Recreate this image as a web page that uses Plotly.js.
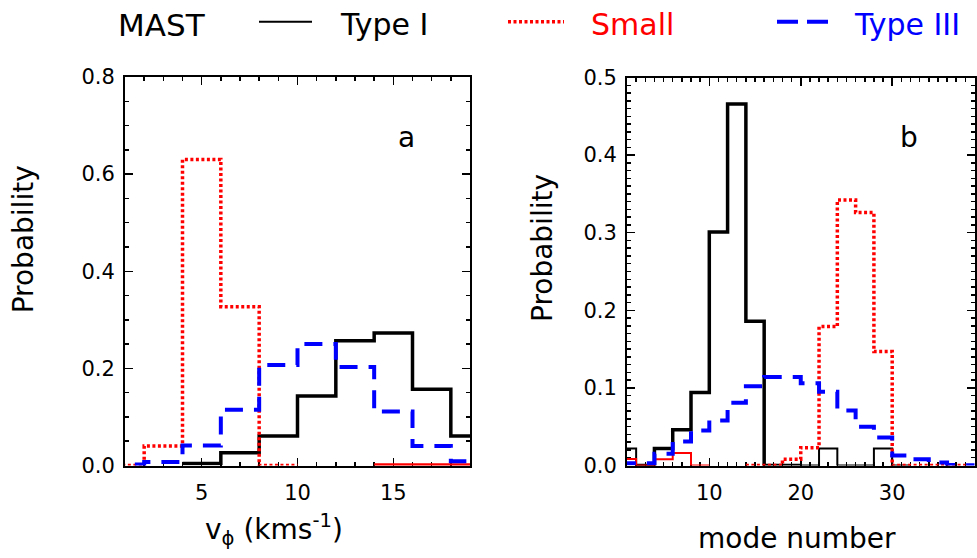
<!DOCTYPE html>
<html><head><meta charset="utf-8">
<script src="https://cdn.plot.ly/plotly-3.0.1.min.js"></script>
<style>html,body{margin:0;padding:0;background:#fff}#chart{width:977px;height:558px}</style>
</head><body><div id="chart"></div>
<script>
// ---------- data ----------
const binWidth = 2;
// panel a : toroidal velocity v_phi (km/s), bins of 2 starting at 0
const velBinStart = 0;
const velTypeI      = [null, null, 0.004, 0.026, 0.061, 0.143, 0.257, 0.273, 0.157, 0.061];
const velSmall      = [0, 0.040, 0.630, 0.327, 0, null, null, null, null, null];
const velSmallZero  = [null, null, null, null, null, null, null, 0, 0, 0];
const velTypeIII    = [0.002, 0.007, 0.041, 0.115, 0.207, 0.250, 0.203, 0.111, 0.040, 0.009];
// panel b : mode number, bins of 2 starting at 0
const modeBinStart = 0;
const modeTypeI      = [null, 0, 0.022, 0.046, 0.094, 0.301, 0.466, 0.186, 0, 0, null, null, null, null, null, null, null, null, null, null];
const modeTypeIMinor = [0.022, 0, null, null, null, null, null, null, null, null, 0, 0.022, 0, 0, 0.022, 0, null, null, null, null];
const modeSmall      = [null, null, null, null, null, null, null, 0, 0, 0.008, 0.023, 0.179, 0.342, 0.326, 0.147, 0, 0, 0, 0, null];
const modeSmallMinor = [0.0085, 0, 0.008, 0.016, 0, null, null, null, null, null, null, null, null, null, null, null, null, null, null, null];
const modeTypeIII    = [0.003, 0.003, 0.015, 0.031, 0.045, 0.058, 0.081, 0.102, 0.114, 0.114, 0.106, 0.095, 0.071, 0.050, 0.036, 0.013, 0.008, 0.004, 0.001, 0];

const seriesNames = ['Type I', 'Small', 'Type III'];
const legendTitle = 'MAST';
const xTitleA = 'v<sub>ϕ</sub> (kms<sup>-1</sup>)';
const xTitleB = 'mode number';
const yTitle = 'Probability';
const panelLabels = ['a', 'b'];

// ---------- helpers ----------
function steps(start, w, vals) {
  const x = [], y = [];
  vals.forEach((v, i) => {
    if (v === null) {
      if (x.length && x[x.length - 1] !== null) { x.push(null); y.push(null); }
      return;
    }
    x.push(start + i * w, start + (i + 1) * w);
    y.push(v, v);
  });
  return {x, y};
}
const W = 977, H = 558;
const px = v => v / W;
const py = v => 1 - v / H;

const FONT = 'DejaVu Sans, sans-serif';
const BLACK = '#000000', RED = '#ff0000', BLUE = '#0000ff';
const solidThick = {color: BLACK, width: 3.5};
const dotted = {color: RED, width: 3.5, dash: '3px,2.5px'};
const dashed = {color: BLUE, width: 4, dash: '18px,11px'};

function tr(data, line, xa, ya, name) {
  const s = steps(data.start, binWidth, data.vals);
  return {type: 'scatter', mode: 'lines', x: s.x, y: s.y, line: line,
          xaxis: xa, yaxis: ya, name: name, showlegend: false,
          connectgaps: false, hoverinfo: 'skip'};
}

const traces = [
  tr({start: velBinStart, vals: velTypeI}, solidThick, 'x', 'y', seriesNames[0]),
  tr({start: velBinStart, vals: velSmall}, dotted, 'x', 'y', seriesNames[1]),
  tr({start: velBinStart, vals: velSmallZero}, {color: RED, width: 4.5}, 'x', 'y', seriesNames[1]),
  tr({start: velBinStart, vals: velTypeIII}, dashed, 'x', 'y', seriesNames[2]),
  tr({start: modeBinStart, vals: modeTypeI}, solidThick, 'x2', 'y2', seriesNames[0]),
  tr({start: modeBinStart, vals: modeTypeIMinor}, {color: BLACK, width: 2}, 'x2', 'y2', seriesNames[0]),
  tr({start: modeBinStart, vals: modeSmall}, dotted, 'x2', 'y2', seriesNames[1]),
  tr({start: modeBinStart, vals: modeSmallMinor}, {color: RED, width: 2}, 'x2', 'y2', seriesNames[1]),
  tr({start: modeBinStart, vals: modeTypeIII}, dashed, 'x2', 'y2', seriesNames[2])
];

const axBase = {
  showline: true, linecolor: BLACK, linewidth: 2, mirror: 'allticks',
  ticks: 'inside', tickcolor: BLACK, tickwidth: 1.5, ticklen: 8,
  showgrid: false, zeroline: false, layer: 'below traces',
  tickfont: {family: FONT, size: 21, color: BLACK}
};
const minorBase = {ticklen: 4, ticks: 'inside', tickcolor: BLACK, tickwidth: 1.5, showgrid: false};

const layout = {
  width: W, height: H,
  margin: {l: 0, r: 0, t: 0, b: 0, autoexpand: false},
  paper_bgcolor: '#fff', plot_bgcolor: '#fff',
  showlegend: false,
  font: {family: FONT, color: BLACK},
  xaxis: Object.assign({}, axBase, {
    domain: [px(125), px(470)], range: [1, 19], anchor: 'y',
    tick0: 0, dtick: 5, ticklabelstandoff: 7,
    minor: Object.assign({dtick: 1}, minorBase)
  }),
  yaxis: Object.assign({}, axBase, {
    domain: [py(465.5), py(77)], range: [0, 0.8], anchor: 'x',
    tick0: 0, dtick: 0.2, tickformat: '.1f', ticklabelstandoff: 4,
    minor: Object.assign({dtick: 0.05}, minorBase)
  }),
  xaxis2: Object.assign({}, axBase, {
    domain: [px(627), px(974.5)], range: [1, 39], anchor: 'y2',
    tick0: 0, dtick: 10, ticklabelstandoff: 7,
    minor: Object.assign({dtick: 1}, minorBase)
  }),
  yaxis2: Object.assign({}, axBase, {
    domain: [py(465.5), py(77.5)], range: [0, 0.5], anchor: 'x2',
    tick0: 0, dtick: 0.1, tickformat: '.1f', ticklabelstandoff: 4,
    minor: Object.assign({dtick: 0.01}, minorBase)
  }),
  annotations: [
    {text: legendTitle, x: px(162), y: py(24.6), xref: 'paper', yref: 'paper', xanchor: 'center', yanchor: 'middle', showarrow: false, font: {family: FONT, size: 31, color: BLACK}},
    {text: seriesNames[0], x: px(384), y: py(24.6), xref: 'paper', yref: 'paper', xanchor: 'center', yanchor: 'middle', showarrow: false, font: {family: FONT, size: 30, color: BLACK}},
    {text: seriesNames[1], x: px(632), y: py(24.6), xref: 'paper', yref: 'paper', xanchor: 'center', yanchor: 'middle', showarrow: false, font: {family: FONT, size: 30, color: RED}},
    {text: seriesNames[2], x: px(907), y: py(24.6), xref: 'paper', yref: 'paper', xanchor: 'center', yanchor: 'middle', showarrow: false, font: {family: FONT, size: 30, color: BLUE}},
    {text: panelLabels[0], x: px(406), y: py(137.3), xref: 'paper', yref: 'paper', xanchor: 'center', yanchor: 'middle', showarrow: false, font: {family: FONT, size: 28, color: BLACK}},
    {text: panelLabels[1], x: px(909), y: py(137.3), xref: 'paper', yref: 'paper', xanchor: 'center', yanchor: 'middle', showarrow: false, font: {family: FONT, size: 28, color: BLACK}},
    {text: xTitleA, x: px(274), y: py(529), xref: 'paper', yref: 'paper', xanchor: 'center', yanchor: 'middle', showarrow: false, font: {family: FONT, size: 28, color: BLACK}},
    {text: xTitleB, x: px(796.5), y: py(538.3), xref: 'paper', yref: 'paper', xanchor: 'center', yanchor: 'middle', showarrow: false, font: {family: FONT, size: 28, color: BLACK}},
    {text: yTitle, x: px(23.3), y: py(239), xref: 'paper', yref: 'paper', xanchor: 'center', yanchor: 'middle', textangle: -90, showarrow: false, font: {family: FONT, size: 28, color: BLACK}},
    {text: yTitle, x: px(542), y: py(248), xref: 'paper', yref: 'paper', xanchor: 'center', yanchor: 'middle', textangle: -90, showarrow: false, font: {family: FONT, size: 28, color: BLACK}}
  ],
  shapes: [
    {type: 'line', xref: 'paper', yref: 'paper', x0: px(259), x1: px(312), y0: py(21.7), y1: py(21.7), line: {color: BLACK, width: 2}},
    {type: 'line', xref: 'paper', yref: 'paper', x0: px(508), x1: px(564), y0: py(21.7), y1: py(21.7), line: {color: RED, width: 3.5, dash: '3px,2.5px'}},
    {type: 'line', xref: 'paper', yref: 'paper', x0: px(777), x1: px(828), y0: py(21.7), y1: py(21.7), line: {color: BLUE, width: 4, dash: '21px,9px'}}
  ]
};

Plotly.newPlot('chart', traces, layout, {staticPlot: true, displayModeBar: false});
</script>
</body></html>
